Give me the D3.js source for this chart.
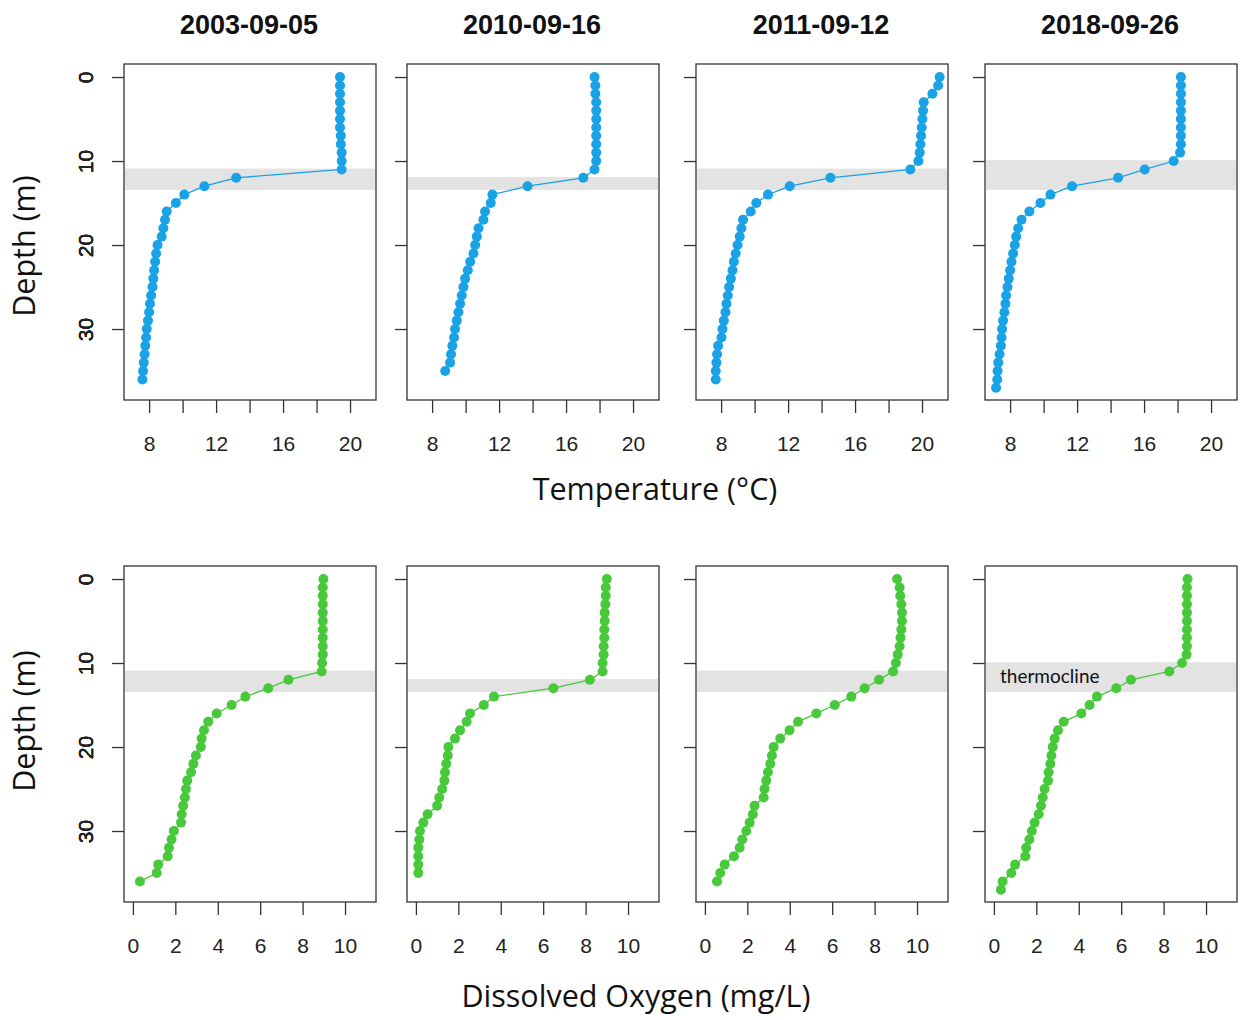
<!DOCTYPE html>
<html>
<head>
<meta charset="utf-8">
<script src="https://cdn.jsdelivr.net/npm/d3@7"></script>
<style>
  html, body { margin: 0; padding: 0; background: #fff; }
  svg { display: block; }
</style>
</head>
<body>
<svg id="chart" width="1241" height="1020"></svg>
<script>
// ---------------- DATA ----------------
const dates = ["2003-09-05", "2010-09-16", "2011-09-12", "2018-09-26"];
const depthM = [0,1,2,3,4,5,6,7,8,9,10,11,12,13,14,15,16,17,18,19,20,21,22,23,24,25,26,27,28,29,30,31,32,33,34,35,36,37];

// Temperature (°C), one value per metre of depth starting at 0 m
const temp2003 = [19.4,19.4,19.4,19.4,19.4,19.4,19.4,19.45,19.45,19.5,19.5,19.5,13.2,11.3,10.1,9.6,9.05,8.95,8.85,8.75,8.5,8.42,8.36,8.3,8.25,8.2,8.12,8.05,8.0,7.93,7.86,7.82,7.77,7.73,7.68,7.64,7.6];
const temp2010 = [17.7,17.75,17.75,17.8,17.8,17.8,17.8,17.8,17.8,17.8,17.8,17.7,17.03,13.7,11.6,11.5,11.16,11.06,10.77,10.67,10.57,10.47,10.27,10.13,9.97,9.87,9.77,9.67,9.57,9.47,9.37,9.31,9.21,9.13,9.07,8.78];
const temp2011 = [21.05,20.96,20.62,20.1,20.06,20.02,19.98,19.94,19.9,19.86,19.78,19.3,14.53,12.1,10.8,10.1,9.77,9.31,9.21,9.11,8.98,8.87,8.76,8.68,8.58,8.48,8.4,8.32,8.26,8.16,8.08,8.02,7.82,7.76,7.72,7.68,7.68];
const temp2018 = [18.2,18.2,18.2,18.2,18.2,18.2,18.2,18.2,18.2,18.15,17.77,16.04,14.45,11.7,10.41,9.81,9.15,8.68,8.48,8.36,8.28,8.18,8.08,8.0,7.92,7.84,7.76,7.72,7.66,7.58,7.52,7.49,7.45,7.37,7.29,7.25,7.23,7.16];

// Dissolved oxygen (mg/L)
const do2003 = [8.98,8.95,8.95,8.95,8.95,8.95,8.95,8.95,8.95,8.95,8.92,8.9,7.33,6.38,5.3,4.65,3.95,3.55,3.35,3.24,3.2,2.97,2.85,2.74,2.56,2.5,2.45,2.37,2.3,2.27,1.93,1.82,1.7,1.64,1.19,1.12,0.33];
const do2010 = [9.0,8.95,8.95,8.93,8.9,8.9,8.88,8.88,8.85,8.85,8.8,8.8,8.2,6.48,3.68,3.2,2.55,2.39,2.08,1.84,1.53,1.5,1.43,1.37,1.34,1.24,1.1,1.0,0.55,0.35,0.19,0.16,0.11,0.11,0.11,0.11];
const do2011 = [9.06,9.18,9.21,9.26,9.29,9.29,9.26,9.22,9.18,9.09,9.0,8.87,8.21,7.53,6.9,6.12,5.25,4.39,3.99,3.55,3.24,3.16,3.08,2.97,2.89,2.81,2.77,2.34,2.26,2.11,1.95,1.76,1.64,1.37,0.93,0.72,0.57];
const do2018 = [9.13,9.1,9.1,9.1,9.1,9.1,9.1,9.1,9.1,9.08,8.87,8.27,6.46,5.77,4.86,4.51,4.12,3.29,3.02,2.86,2.77,2.71,2.66,2.58,2.55,2.39,2.3,2.22,2.11,1.92,1.79,1.67,1.52,1.48,1.0,0.82,0.41,0.33];

// Thermocline band (depth range, m) per date
const thermoTop = [10.9, 11.9, 10.9, 9.9];
const thermoBottom = [13.45, 13.45, 13.45, 13.45];

const tempTicks = [8, 10, 12, 14, 16, 18, 20];
const tempTickLabels = ["8", "", "12", "", "16", "", "20"];
const doTicks = [0, 2, 4, 6, 8, 10];
const depthTicks = [0, 10, 20, 30];

const tempSeries = [temp2003, temp2010, temp2011, temp2018];
const doSeries = [do2003, do2010, do2011, do2018];

// ---------------- LAYOUT ----------------
const svg = d3.select("#chart");
const panelLefts = [124, 407, 696, 985];
const panelW = 252;
const rows = [
  { top: 64, bottom: 400, series: tempSeries, domain: [6.5, 21.55], ticks: tempTicks, labels: tempTickLabels, color: "#19a2e6", yTitleMid: 246 },
  { top: 566, bottom: 902, series: doSeries, domain: [-0.42, 11.46], ticks: doTicks, labels: doTicks.map(String), color: "#48c83b", yTitleMid: 721 }
];
const tickFont = "'Liberation Sans', Arial, sans-serif";
const titleFont = "'Open Sans', 'DejaVu Sans', sans-serif";

rows.forEach((row, ri) => {
  const y = d3.scaleLinear().domain([-1.55, 38.45]).range([row.top, row.bottom]);
  panelLefts.forEach((left, pi) => {
    const x = d3.scaleLinear().domain(row.domain).range([left, left + panelW]);
    const g = svg.append("g");

    // thermocline band
    g.append("rect")
      .attr("x", left + 1).attr("width", panelW - 2)
      .attr("y", y(thermoTop[pi]))
      .attr("height", y(thermoBottom[pi]) - y(thermoTop[pi]))
      .attr("fill", "#e3e3e3");

    // data
    const vals = row.series[pi];
    const pts = vals.map((v, i) => [v, depthM[i]]);
    g.append("path")
      .datum(pts)
      .attr("fill", "none")
      .attr("stroke", row.color)
      .attr("stroke-width", 1.3)
      .attr("d", d3.line().x(d => x(d[0])).y(d => y(d[1])));
    g.selectAll("circle.pt").data(pts).enter().append("circle")
      .attr("class", "pt")
      .attr("cx", d => x(d[0]))
      .attr("cy", d => y(d[1]))
      .attr("r", 5)
      .attr("fill", row.color);

    // box
    g.append("rect")
      .attr("x", left).attr("y", row.top)
      .attr("width", panelW).attr("height", row.bottom - row.top)
      .attr("fill", "none").attr("stroke", "#333").attr("stroke-width", 1.3);

    // x axis
    const xAxis = d3.axisBottom(x).tickValues(row.ticks)
      .tickSize(13).tickPadding(23)
      .tickFormat((d, i) => row.labels[i]);
    const xa = g.append("g").attr("transform", `translate(0,${row.bottom})`).call(xAxis);
    xa.select(".domain").remove();
    xa.selectAll(".tick line").attr("stroke", "#333").attr("stroke-width", 1.3);
    xa.selectAll(".tick text").attr("font-family", tickFont).attr("font-size", 21).attr("fill", "#222");

    // y axis
    const yAxis = d3.axisLeft(y).tickValues(depthTicks).tickSize(12).tickFormat(d3.format("d"));
    const ya = g.append("g").attr("transform", `translate(${left},0)`).call(yAxis);
    ya.select(".domain").remove();
    ya.selectAll(".tick line").attr("stroke", "#333").attr("stroke-width", 1.3);
    ya.selectAll(".tick text")
      .attr("font-family", tickFont).attr("font-size", 21).attr("fill", "#222")
      .attr("x", null).attr("dy", null)
      .attr("text-anchor", "middle")
      .attr("dominant-baseline", "central")
      .attr("transform", `translate(${85 - left},0) rotate(-90)`);

    if (ri === 0) {
      svg.append("text")
        .attr("x", left + panelW / 2 - 1).attr("y", 34)
        .attr("text-anchor", "middle")
        .attr("font-family", tickFont).attr("font-weight", "bold")
        .attr("font-size", 27).attr("fill", "#111")
        .text(dates[pi]);
    }
  });

  // y-axis title
  svg.append("text")
    .attr("transform", `translate(35,${row.yTitleMid}) rotate(-90)`)
    .attr("text-anchor", "middle")
    .attr("font-family", titleFont).attr("font-size", 30.5).attr("fill", "#111")
    .text("Depth (m)");
});

// x-axis titles
svg.append("text").attr("x", 655).attr("y", 500).attr("text-anchor", "middle")
  .attr("font-family", titleFont).attr("font-size", 30.5).attr("fill", "#111")
  .text("Temperature (°C)");
svg.append("text").attr("x", 636).attr("y", 1007).attr("text-anchor", "middle")
  .attr("font-family", titleFont).attr("font-size", 30.5).attr("fill", "#111")
  .text("Dissolved Oxygen (mg/L)");

// thermocline annotation
svg.append("text").attr("x", 1000).attr("y", 683)
  .attr("font-family", "Lato, 'Open Sans', sans-serif").attr("font-size", 19).attr("fill", "#111")
  .text("thermocline");
</script>
</body>
</html>
